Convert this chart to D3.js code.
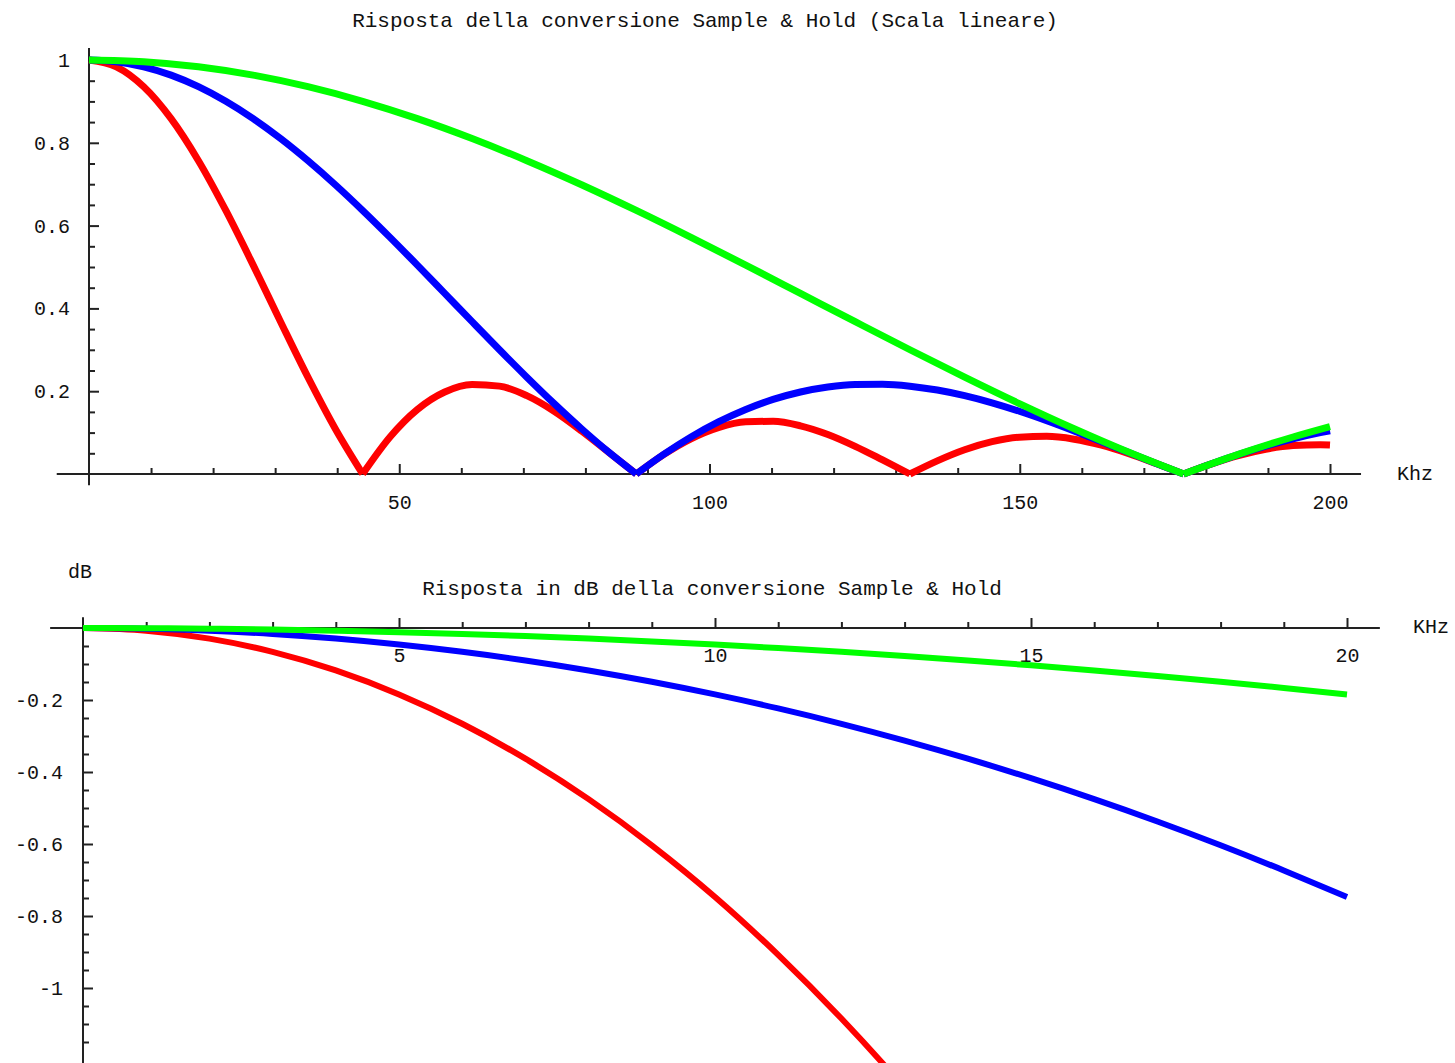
<!DOCTYPE html>
<html>
<head>
<meta charset="utf-8">
<script src="https://cdn.jsdelivr.net/npm/d3@7"></script>
<style>
  body { margin: 0; background: #fff; }
  svg { display: block; }
  .axis text { font-family: "Liberation Mono", "DejaVu Sans Mono", monospace; font-size: 20px; fill: #111; }
  .axis line { stroke: #222; stroke-width: 2; }
  .label { font-family: "Liberation Mono", "DejaVu Sans Mono", monospace; fill: #111; }
</style>
</head>
<body>
<div id="chart"></div>
<script>
// ---- Data: linear response (top plot), frequencies in kHz ----
// red/blue share the fine frequency grid, green uses the coarse one
const freqFine = [0, 4.41, 8.82, 13.23, 17.64, 22.05, 26.46, 30.87, 35.28, 39.69,
  44.1, 48.51, 52.92, 57.33, 61.74, 66.15, 70.56, 74.97, 79.38, 83.79,
  88.2, 92.61, 97.02, 101.43, 105.84, 110.25, 114.66, 119.07, 123.48, 127.89,
  132.3, 136.71, 141.12, 145.53, 149.94, 154.35, 158.76, 163.17, 167.58, 171.99,
  176.4, 180.81, 185.22, 189.63, 194.04, 198.45, 200];
const freqCoarse = [0, 8.82, 17.64, 26.46, 35.28, 44.1, 52.92, 61.74, 70.56, 79.38,
  88.2, 97.02, 105.84, 114.66, 123.48, 132.3, 141.12, 149.94, 158.76, 167.58,
  176.4, 185.22, 194.04, 200];

const redLinear = [1, 0.9836, 0.9355, 0.8584, 0.7568, 0.6366, 0.5046, 0.3679, 0.2339, 0.1093,
  0, 0.0894, 0.1559, 0.1981, 0.2162, 0.2122, 0.1892, 0.1515, 0.1039, 0.0518,
  0, 0.0468, 0.0850, 0.1120, 0.1261, 0.1273, 0.1164, 0.0954, 0.0668, 0.0339,
  0, 0.0317, 0.0585, 0.0780, 0.0890, 0.0909, 0.0841, 0.0696, 0.0492, 0.0252,
  0, 0.0240, 0.0446, 0.0599, 0.0688, 0.0707, 0.0698];
const blueLinear = [1, 0.9959, 0.9836, 0.9634, 0.9355, 0.9003, 0.8584, 0.8103, 0.7568, 0.6987,
  0.6366, 0.5716, 0.5046, 0.4363, 0.3679, 0.3001, 0.2339, 0.1700, 0.1093, 0.0524,
  0, 0.0474, 0.0894, 0.1257, 0.1559, 0.1801, 0.1981, 0.2101, 0.2162, 0.2168,
  0.2122, 0.2028, 0.1892, 0.1719, 0.1515, 0.1286, 0.1039, 0.0781, 0.0518, 0.0255,
  0, 0.0243, 0.0468, 0.0672, 0.0850, 0.1000, 0.1046];
const greenLinear = [1, 0.9959, 0.9836, 0.9634, 0.9355, 0.9003, 0.8584, 0.8103, 0.7568, 0.6987,
  0.6366, 0.5716, 0.5046, 0.4363, 0.3679, 0.3001, 0.2339, 0.1700, 0.1093, 0.0524,
  0, 0.0474, 0.0894, 0.1146];

// ---- Data: dB response (bottom plot), 0..20 kHz ----
const freqDb = [0, 1, 2, 3, 4, 5, 6, 7, 8, 9, 10, 11, 12, 13, 14, 15, 16, 17, 18, 19, 20];
const redDb = [0, -0.0074, -0.0294, -0.0662, -0.1179, -0.1845, -0.2661, -0.3630, -0.4754, -0.6035,
  -0.7470, -0.9079, -1.0848, -1.2785, -1.4915];
const blueDb = [0, -0.0018, -0.0074, -0.0165, -0.0294, -0.0460, -0.0662, -0.0902, -0.1179, -0.1493,
  -0.1845, -0.2234, -0.2661, -0.3127, -0.3630, -0.4173, -0.4754, -0.5374, -0.6035, -0.6735, -0.7470];
const greenDb = [0, -0.0005, -0.0018, -0.0041, -0.0074, -0.0115, -0.0165, -0.0225, -0.0294, -0.0372,
  -0.0460, -0.0556, -0.0662, -0.0777, -0.0902, -0.1036, -0.1179, -0.1331, -0.1493, -0.1664, -0.1845];

// Tick labels
const topXTicks = [50, 100, 150, 200];
const topYTicks = [0.2, 0.4, 0.6, 0.8, 1];
const botXTicks = [5, 10, 15, 20];
const botYTicks = [-0.2, -0.4, -0.6, -0.8, -1];

// Configuration
const width = 1455;
const height = 1063;
const RED = "#ff0000", BLUE = "#0000ff", GREEN = "#00ff00";

const svg = d3.select("#chart")
  .append("svg")
  .attr("width", width)
  .attr("height", height)
  .attr("viewBox", [0, 0, width, height]);

svg.append("rect").attr("width", width).attr("height", height).attr("fill", "#fff");

// Scales
const xTop = d3.scaleLinear().domain([0, 200]).range([89, 1330]);
const yTop = d3.scaleLinear().domain([0, 1]).range([474, 60]);
const xBot = d3.scaleLinear().domain([0, 20]).range([83, 1347]);
const yBot = d3.scaleLinear().domain([0, -1]).range([628, 988]);

const fmt = d => String(d);

// Draw axes with Mathematica-like inward ticks
function drawAxes(g, x, y, opts) {
  // axis lines
  g.append("line")
    .attr("x1", x(opts.xExtent[0])).attr("x2", x(opts.xExtent[1]))
    .attr("y1", y(0)).attr("y2", y(0))
    .attr("stroke", "#222").attr("stroke-width", 2);
  g.append("line")
    .attr("x1", x(0)).attr("x2", x(0))
    .attr("y1", y(opts.yExtent[0])).attr("y2", y(opts.yExtent[1]))
    .attr("stroke", "#222").attr("stroke-width", 2);

  // x minor + major ticks
  g.append("g").attr("class", "axis")
    .attr("transform", `translate(0,${y(0)})`)
    .call(d3.axisBottom(x).tickValues(opts.xMinor).tickSize(-6).tickFormat(""))
    .call(s => s.select(".domain").remove());
  g.append("g").attr("class", "axis")
    .attr("transform", `translate(0,${y(0)})`)
    .call(d3.axisBottom(x).tickValues(opts.xTicks).tickSize(-10).tickPadding(opts.xPad).tickFormat(fmt))
    .call(s => s.select(".domain").remove());

  // y minor + major ticks
  g.append("g").attr("class", "axis")
    .attr("transform", `translate(${x(0)},0)`)
    .call(d3.axisLeft(y).tickValues(opts.yMinor).tickSize(-6).tickFormat(""))
    .call(s => s.select(".domain").remove());
  g.append("g").attr("class", "axis")
    .attr("transform", `translate(${x(0)},0)`)
    .call(d3.axisLeft(y).tickValues(opts.yTicks).tickSize(-10).tickPadding(opts.yPad).tickFormat(fmt))
    .call(s => s.select(".domain").remove());
}

// Split a series at its zeros so the cusps stay sharp
function segments(xs, ys) {
  const pts = ys.map((v, i) => [xs[i], v]);
  const out = [];
  let cur = [];
  pts.forEach((p, i) => {
    cur.push(p);
    if (p[1] === 0 && i > 0 && i < pts.length - 1) {
      out.push(cur);
      cur = [p];
    }
  });
  out.push(cur);
  return out;
}

// ---------------- Top plot ----------------
const topPlot = svg.append("g");
drawAxes(topPlot, xTop, yTop, {
  xExtent: [-5.2, 205],
  yExtent: [1.029, -0.027],
  xTicks: topXTicks,
  xMinor: d3.range(10, 201, 10).filter(v => v % 50 !== 0),
  yTicks: topYTicks,
  yMinor: d3.range(1, 21).map(i => i * 0.05).filter(v => Math.abs(v * 5 - Math.round(v * 5)) > 1e-6),
  xPad: 21,
  yPad: 19
});

const lineTop = d3.line().x(d => xTop(d[0])).y(d => yTop(d[1])).curve(d3.curveMonotoneX);
[[freqFine, redLinear, RED], [freqFine, blueLinear, BLUE], [freqCoarse, greenLinear, GREEN]]
  .forEach(([xs, ys, c]) => {
    topPlot.append("g").selectAll("path")
      .data(segments(xs, ys))
      .join("path")
      .attr("d", lineTop)
      .attr("fill", "none")
      .attr("stroke", c)
      .attr("stroke-width", 7)
      .attr("stroke-linejoin", "round");
  });

topPlot.append("text").attr("class", "label")
  .attr("x", 705).attr("y", 27)
  .attr("text-anchor", "middle").style("font-size", "21px")
  .text("Risposta della conversione Sample & Hold (Scala lineare)");
topPlot.append("text").attr("class", "label")
  .attr("x", 1397).attr("y", 480).style("font-size", "20px")
  .text("Khz");

// ---------------- Bottom plot ----------------
const botPlot = svg.append("g");
drawAxes(botPlot, xBot, yBot, {
  xExtent: [-0.52, 20.52],
  yExtent: [0.03, -1.21],
  xTicks: botXTicks,
  xMinor: d3.range(1, 21).filter(v => v % 5 !== 0),
  yTicks: botYTicks,
  yMinor: d3.range(1, 24).map(i => -i * 0.05).filter(v => Math.abs(v * 5 - Math.round(v * 5)) > 1e-6),
  xPad: 20,
  yPad: 20
});

const lineBot = d3.line().x(d => xBot(d[0])).y(d => yBot(d[1])).curve(d3.curveMonotoneX);
[[redDb, RED], [blueDb, BLUE], [greenDb, GREEN]].forEach(([ys, c]) => {
  botPlot.append("path")
    .datum(ys.map((v, i) => [freqDb[i], v]))
    .attr("d", lineBot)
    .attr("fill", "none")
    .attr("stroke", c)
    .attr("stroke-width", 6)
    .attr("stroke-linejoin", "round");
});

botPlot.append("text").attr("class", "label")
  .attr("x", 712).attr("y", 595)
  .attr("text-anchor", "middle").style("font-size", "21px")
  .text("Risposta in dB della conversione Sample & Hold");
botPlot.append("text").attr("class", "label")
  .attr("x", 68).attr("y", 578).style("font-size", "20px")
  .text("dB");
botPlot.append("text").attr("class", "label")
  .attr("x", 1413).attr("y", 633).style("font-size", "20px")
  .text("KHz");
</script>
</body>
</html>
